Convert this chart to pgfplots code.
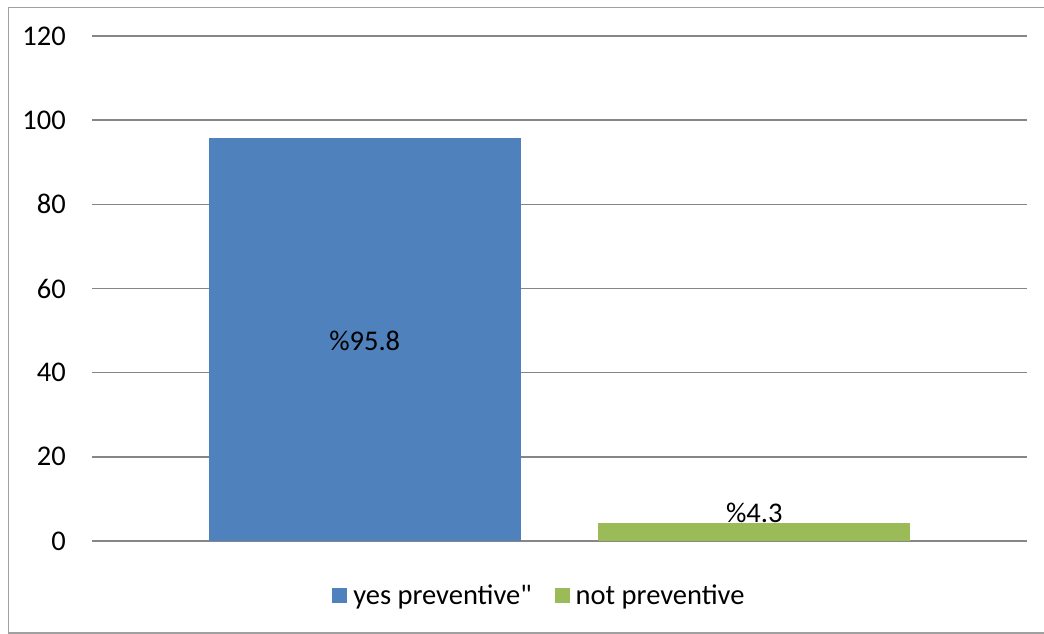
\documentclass[border=0pt]{standalone}
\usepackage{fontspec}
\setmainfont{Carlito}[Ligatures=TeXOff]
\usepackage{pgfplots}
\pgfplotsset{compat=1.18}
\definecolor{barblue}{HTML}{4F81BD}
\definecolor{bargreen}{HTML}{9BBB59}
\definecolor{gridgray}{HTML}{868686}
\definecolor{framegray}{HTML}{A0A0A0}
\pgfplotsset{
  squarelegend/.style={legend image code/.code={\fill[##1] (0pt,-7.5pt) rectangle (15pt,7.5pt);}},
}
\begin{document}
\begin{tikzpicture}[font=\fontsize{28.5pt}{33pt}\selectfont]
\useasboundingbox (0,0) rectangle (1044pt,634pt);
% chart frame (open on the right)
\draw[framegray, line width=1.5pt] (1060pt,626.5pt) -- (8.5pt,626.5pt) -- (8.5pt,1pt) -- (1060pt,1pt);
\begin{axis}[
  at={(92pt,93pt)}, anchor=south west,
  scale only axis, width=935pt, height=505pt,
  xmin=-0.7, xmax=1.7, ymin=0, ymax=120,
  ytick={0,20,...,120}, xtick=\empty,
  ymajorgrids, major grid style={gridgray, line width=1.5pt},
  axis line style={draw=none}, tick style={draw=none},
  yticklabel style={inner sep=0pt, xshift=-26pt},
  /pgf/number format/assume math mode=true,
  ybar, bar width=312pt,
  nodes near coords={\%\pgfmathprintnumber{\pgfplotspointmeta}},
  legend style={at={(0.479,-0.107)}, anchor=center, draw=none, fill=none,
    legend columns=2,
    /tikz/every even column/.append style={column sep=20pt},
    nodes={inner sep=3pt},
    /tikz/every odd column/.append style={column sep=3pt}},
]
\addplot[bar shift=0pt, fill=barblue, draw=none, squarelegend,
  every node near coord/.append style={black, anchor=center, inner sep=0pt, yshift=-203pt}]
  coordinates {(0,95.8)};
\addlegendentry{yes preventive"}
\addplot[bar shift=0pt, fill=bargreen, draw=none, squarelegend,
  every node near coord/.append style={black, anchor=base, inner sep=0pt, yshift=0pt}]
  coordinates {(1,4.3)};
\addlegendentry{not preventive}
\end{axis}
\end{tikzpicture}
\end{document}
